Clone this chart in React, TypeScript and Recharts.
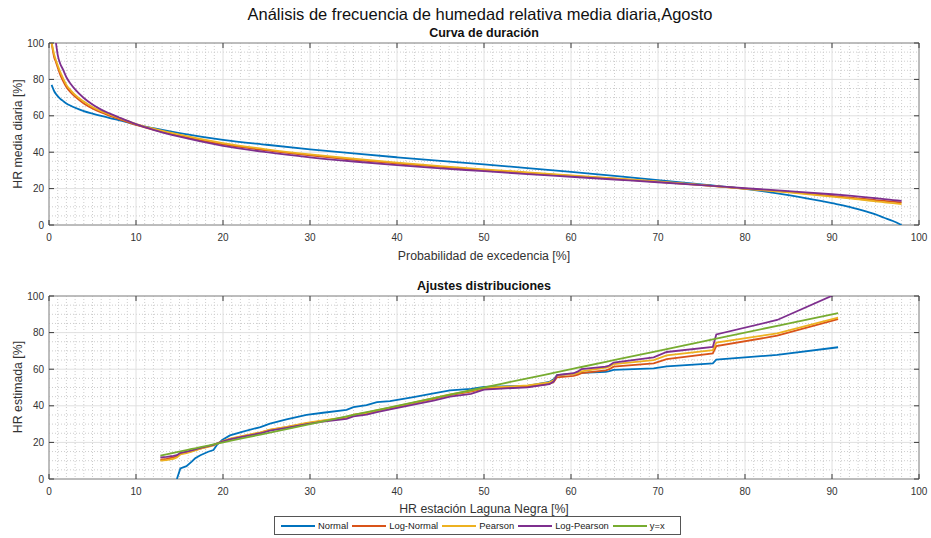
import React from 'react'
import { LineChart, Line, XAxis, YAxis, CartesianGrid, ReferenceArea } from 'recharts'

// ---- Curva de duración (top) ----
const probExc = [0.3, 0.4, 0.6, 0.8, 1, 1.3, 1.6, 2, 2.5, 3, 4, 5, 6, 7, 8, 10, 12, 15, 20, 25, 30, 35, 40, 45, 50, 55, 60, 65, 70, 75, 80, 85, 90, 92, 94, 95, 96, 97, 98]
const durNormal = [77, 75.8, 73.5, 72, 70.8, 69.3, 68.2, 66.8, 65.5, 64.4, 62.6, 61.2, 59.9, 58.7, 57.6, 55.2, 53.2, 50.5, 46.8, 44.1, 41.6, 39.3, 37.2, 35.2, 33.3, 31.3, 29.2, 27, 24.7, 22.3, 19.8, 16.4, 12, 10, 7.3, 5.8, 4, 2.2, 0]
const durLogNormal = [100, 97, 92, 89.5, 86.5, 82.5, 79.3, 75.8, 72.8, 70.5, 66.8, 64, 61.8, 60, 58.3, 55, 52.4, 49, 44.3, 41, 38.2, 35.8, 33.8, 31.9, 30.2, 28.6, 27, 25.4, 23.7, 21.9, 20, 18.2, 16, 15.1, 14.2, 13.7, 13.2, 12.8, 12.4]
const durPearson = [100, 98, 93.5, 90.5, 87.8, 84, 80.8, 77, 74, 71.5, 67.8, 64.8, 62.5, 60.6, 58.9, 55.5, 52.9, 49.6, 45, 41.6, 38.8, 36.4, 34.3, 32.4, 30.6, 28.9, 27.3, 25.6, 23.9, 22, 19.9, 17.9, 15.6, 14.6, 13.6, 13, 12.5, 12, 11.5]
const durLogPearson = [null, null, null, 100, 93.5, 88.5, 85.5, 81.2, 77.5, 74.5, 69.8, 66.2, 63.4, 61.2, 59.2, 55.4, 52.3, 48.5, 43.5, 40, 37.2, 34.9, 32.9, 31.1, 29.6, 28, 26.5, 25, 23.5, 21.9, 20.2, 18.6, 16.9, 16.1, 15.2, 14.7, 14.2, 13.7, 13.2]

// ---- Ajustes distribuciones (bottom) ----
const hrObs = [12.8, 13.5, 14.3, 14.7, 15.1, 15.8, 16.4, 16.8, 17.4, 18.3, 18.9, 19.3, 19.9, 20.8, 22.3, 24.3, 25.4, 27.3, 29.6, 31.5, 34.2, 35, 36.5, 37.7, 39.2, 41.9, 44.2, 46.1, 48.5, 50, 52, 55, 57.5, 58, 58.4, 60.3, 60.8, 61.2, 64, 64.4, 64.9, 69.5, 71, 76.3, 76.7, 83.7, 90.7]
const fitNormal = [null, null, null, 0, 5.8, 7, 9.5, 11.3, 13, 14.9, 15.8, 18.6, 21.3, 23.8, 25.9, 28.4, 30.3, 32.6, 35, 36.2, 37.8, 39.3, 40.4, 42, 42.6, 44.8, 46.8, 48.4, 49.2, 50.3, 50.6, 50.9, 53, 54.5, 56.8, 57.6, 57.9, 58, 58.6, 59, 59.6, 60.4, 61.6, 63.2, 65.2, 67.8, 72]
const fitLogNormal = [10.6, 11, 11.8, 12.3, 14, 14.6, 15.3, 15.8, 16.6, 17.8, 18.5, 19.3, 20.5, 21.8, 23.4, 25.3, 26.8, 28.3, 30.4, 31.8, 33.6, 35, 36, 37.3, 38.7, 41.5, 43.8, 45.9, 47.8, 49.4, 49.8, 50.4, 52, 53, 55.6, 56.4, 57, 57.8, 59.4, 60, 61.4, 63.2, 65.5, 68.6, 72.6, 78.3, 87.4]
const fitPearson = [10, 10.3, 11, 11.8, 13.4, 14.2, 15, 15.6, 16.6, 17.6, 18.3, 19.3, 20.6, 22, 23.6, 25.5, 27, 28.5, 30.6, 32, 33.8, 35.2, 36.2, 37.6, 39, 41.8, 44.2, 46.3, 48.2, 49.8, 50.3, 51.2, 52.8, 54, 56.6, 57.4, 57.8, 58.8, 60.8, 61.4, 62.8, 65, 67.6, 70.4, 74.5, 79.6, 88.2]
const fitLogPearson = [11.8, 12.1, 12.6, 13, 14.3, 15, 15.7, 16.2, 17, 18, 18.7, 19.4, 20.5, 21.7, 23.2, 25, 26.4, 27.9, 30, 31.3, 32.9, 34.2, 35.2, 36.6, 38, 40.6, 42.8, 45, 46.5, 48.8, 49.4, 50.1, 51.8, 53.2, 56.8, 57.8, 58.8, 60, 61.4, 62, 63.6, 66.5, 69.4, 72.2, 79, 86.9, 101.6]
const fitIdentity = [12.8, 13.5, 14.3, 14.7, 15.1, 15.8, 16.4, 16.8, 17.4, 18.3, 18.9, 19.3, 19.9, 20.8, 22.3, 24.3, 25.4, 27.3, 29.6, 31.5, 34.2, 35, 36.5, 37.7, 39.2, 41.9, 44.2, 46.1, 48.5, 50, 52, 55, 57.5, 58, 58.4, 60.3, 60.8, 61.2, 64, 64.4, 64.9, 69.5, 71, 76.3, 76.7, 83.7, 90.7]

const seriesKeys = ['normal', 'logNormal', 'pearson', 'logPearson', 'identity']
const seriesNames = ['Normal', 'Log-Normal', 'Pearson', 'Log-Pearson', 'y=x']
const seriesColors = ['#0072BD', '#D95319', '#EDB120', '#7E2F8E', '#77AC30']

const xTicks = [0, 10, 20, 30, 40, 50, 60, 70, 80, 90, 100]
const yTicks = [0, 20, 40, 60, 80, 100]
const xMinor = Array.from({ length: 99 }, (_, i) => i + 1).filter((v) => v % 10 !== 0)
const yMinor = [5, 10, 15, 25, 30, 35, 45, 50, 55, 65, 70, 75, 85, 90, 95]

const durData = probExc.map((p, i) => ({
  x: p,
  normal: durNormal[i],
  logNormal: durLogNormal[i],
  pearson: durPearson[i],
  logPearson: durLogPearson[i],
}))

const fitData = hrObs.map((o, i) => ({
  x: o,
  normal: fitNormal[i],
  logNormal: fitLogNormal[i],
  pearson: fitPearson[i],
  logPearson: fitLogPearson[i],
  identity: fitIdentity[i],
}))

const FONT = '"Liberation Sans", Arial, Helvetica, sans-serif'
const W = 931
const TICK = '#3a3a3a'

// plot box geometry (page px)
const PL = 49
const PR = 919
const YAW = 40
const XAH = 20

function makeXTick(top: number, bottom: number) {
  return (props: any) => {
    const { x, payload } = props
    return (
      <g>
        <line x1={x} x2={x} y1={bottom} y2={bottom - 5} stroke={TICK} strokeWidth={1} />
        <line x1={x} x2={x} y1={top} y2={top + 5} stroke={TICK} strokeWidth={1} />
        <text x={x} y={bottom + 15.5} textAnchor="middle" fontSize={10} fill="#333" fontFamily={FONT}>
          {payload.value}
        </text>
      </g>
    )
  }
}

function makeYTick() {
  return (props: any) => {
    const { y, payload } = props
    return (
      <g>
        <line x1={PL} x2={PL + 5} y1={y} y2={y} stroke={TICK} strokeWidth={1} />
        <line x1={PR - 5} x2={PR} y1={y} y2={y} stroke={TICK} strokeWidth={1} />
        <text x={PL - 5} y={y + 3.5} textAnchor="end" fontSize={10} fill="#333" fontFamily={FONT}>
          {payload.value}
        </text>
      </g>
    )
  }
}

function Panel({ data, keys, height, top, bottom, curved }: any) {
  return (
    <LineChart
      width={W}
      height={height}
      data={data}
      margin={{ top, right: W - PR, bottom: height - bottom - XAH, left: PL - YAW }}
    >
      <CartesianGrid verticalValues={xMinor} horizontalValues={yMinor} stroke="#cdcdcd" strokeDasharray="1 2" />
      <CartesianGrid stroke="#e0e0e0" />
      <XAxis
        dataKey="x"
        type="number"
        domain={[0, 100]}
        ticks={xTicks}
        interval={0}
        height={XAH}
        axisLine={false}
        tickLine={false}
        tickSize={0}
        tick={makeXTick(top, bottom)}
      />
      <YAxis
        type="number"
        domain={[0, 100]}
        ticks={yTicks}
        interval={0}
        width={YAW}
        allowDataOverflow
        axisLine={false}
        tickLine={false}
        tickSize={0}
        tick={makeYTick()}
      />
      <ReferenceArea x1={0} x2={100} y1={0} y2={100} fill="none" stroke="#8a8a8a" strokeWidth={1} />
      {keys.map((k: string) => {
        const i = seriesKeys.indexOf(k)
        return (
          <Line
            key={k}
            type={curved ? 'monotone' : 'linear'}
            dataKey={k}
            name={seriesNames[i]}
            stroke={seriesColors[i]}
            strokeWidth={1.8}
            dot={false}
            isAnimationActive={false}
          />
        )
      })}
    </LineChart>
  )
}

export default function App() {
  return (
    <div style={{ position: 'absolute', left: 0, top: 0, width: W, height: 538, background: '#fff', fontFamily: FONT }}>
      <div style={{ position: 'absolute', left: 0, top: 0 }}>
        <Panel data={durData} keys={['normal', 'logNormal', 'pearson', 'logPearson']} height={270} top={43} bottom={225} curved />
      </div>
      <div style={{ position: 'absolute', left: 0, top: 270 }}>
        <Panel data={fitData} keys={seriesKeys} height={268} top={26} bottom={209} />
      </div>

      <svg width={W} height={538} style={{ position: 'absolute', left: 0, top: 0, pointerEvents: 'none' }}>
        <text x={480} y={19.5} textAnchor="middle" fontSize={16.5} fill="#111" fontFamily={FONT}>
          Análisis de frecuencia de humedad relativa media diaria,Agosto
        </text>
        <text x={484} y={36.5} textAnchor="middle" fontSize={12.5} fontWeight="bold" fill="#111" fontFamily={FONT}>
          Curva de duración
        </text>
        <text x={484} y={259.5} textAnchor="middle" fontSize={12.3} fill="#333" fontFamily={FONT}>
          Probabilidad de excedencia [%]
        </text>
        <text transform="translate(22,134) rotate(-90)" textAnchor="middle" fontSize={12.3} fill="#333" fontFamily={FONT}>
          HR media diaria [%]
        </text>
        <text x={484} y={290} textAnchor="middle" fontSize={12.5} fontWeight="bold" fill="#111" fontFamily={FONT}>
          Ajustes distribuciones
        </text>
        <text x={484} y={512.5} textAnchor="middle" fontSize={12.3} fill="#333" fontFamily={FONT}>
          HR estación Laguna Negra [%]
        </text>
        <text transform="translate(22,387) rotate(-90)" textAnchor="middle" fontSize={12.3} fill="#333" fontFamily={FONT}>
          HR estimada [%]
        </text>
      </svg>

      {/* legend */}
      <div
        style={{
          position: 'absolute',
          left: 274,
          top: 516,
          width: 407,
          height: 19,
          boxSizing: 'border-box',
          border: '1px solid #555',
          background: '#fff',
          display: 'flex',
          alignItems: 'center',
          paddingLeft: 6,
          fontSize: 9.4,
          color: '#222',
          whiteSpace: 'nowrap',
        }}
      >
        {seriesNames.map((n, i) => (
          <div key={n} style={{ display: 'flex', alignItems: 'center', marginRight: 4, flexShrink: 0 }}>
            <span style={{ display: 'inline-block', width: 34, height: 2, background: seriesColors[i], marginRight: 3, flexShrink: 0 }} />
            <span>{n}</span>
          </div>
        ))}
      </div>
    </div>
  )
}
